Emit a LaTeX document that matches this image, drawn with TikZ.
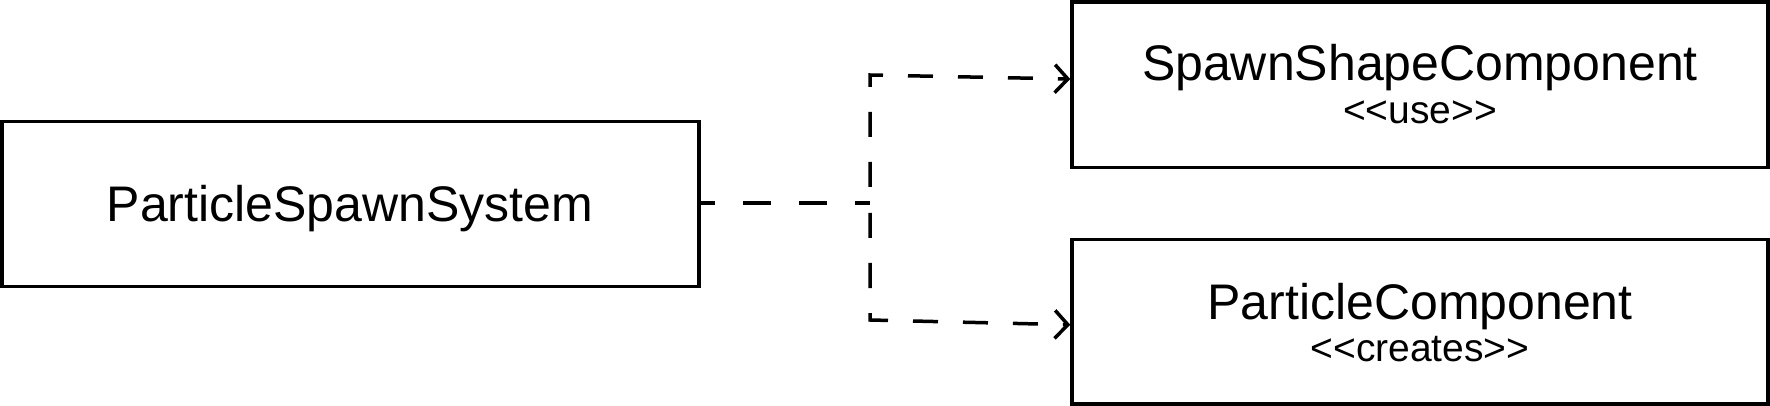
\documentclass[tikz,border=0pt]{standalone}
\usepackage{fontspec}
\setmainfont{Liberation Sans}
\usetikzlibrary{arrows.meta}
\begin{document}
\begin{tikzpicture}[x=1pt,y=1pt,
  box/.style={draw=black, line width=3.5pt, fill=white, inner sep=0pt},
  titletext/.style={anchor=base, inner sep=0pt, font=\fontsize{50}{60}\selectfont},
  stereo/.style={anchor=base, inner sep=0pt, font=\fontsize{39}{46}\selectfont},
  conn/.style={draw=black, line width=3.5pt},
  tip/.style={-{Straight Barb[length=13pt,width=28pt,line width=3.5pt]}}
]
\useasboundingbox (0,0) rectangle (1770,-406);
% boxes
\node[box, minimum width=697pt, minimum height=165pt] (psys) at (350.5,-204) {};
\node[box, minimum width=696pt, minimum height=165.5pt] (shape) at (1420,-84.75) {};
\node[box, minimum width=696pt, minimum height=164.5pt] (part) at (1420,-321.75) {};
% texts
\node[titletext] (psysT) at (350,-222) {ParticleSpawnSystem};
\node[titletext] (shapeT) at (1420,-81) {SpawnShapeComponent};
\node[stereo] (shapeS) at (1420,-124) {<{}<use>{}>};
\node[titletext] (partT) at (1420,-319) {ParticleComponent};
\node[stereo] (partS) at (1420,-361) {<{}<creates>{}>};
% connectors
\coordinate (j) at (870,-203);
\coordinate (jt) at (870,-75);
\coordinate (jb) at (870,-320);
\draw[conn, dash pattern=on 28pt off 28pt, dash phase=14pt] (psys.east |- j) -- (j);
\draw[conn, tip, dash pattern=on 25pt off 25pt, dash phase=34pt]
  (j) -- (jt) -- ([yshift=5.75pt]shape.west);
\draw[conn, tip, dash pattern=on 25pt off 25pt, dash phase=40pt]
  (j) -- (jb) -- ([yshift=-3pt]part.west);
\end{tikzpicture}
\end{document}
